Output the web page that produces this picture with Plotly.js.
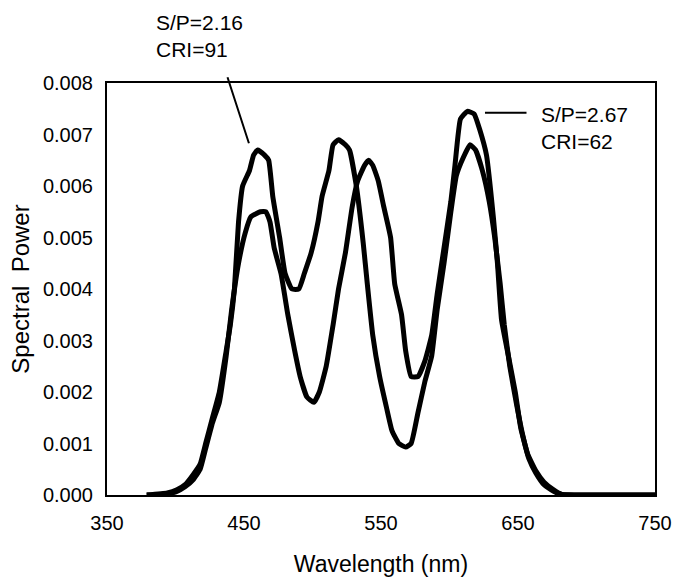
<!DOCTYPE html>
<html>
<head>
<meta charset="utf-8">
<script src="https://cdn.plot.ly/plotly-3.0.1.min.js"></script>
<style>html,body{margin:0;padding:0;background:#fff;}#chart{width:673px;height:582px;}</style>
</head>
<body>
<div id="chart"></div>
<script>
// Spectrum 1 (blue peak ~0.0067, labelled S/P=2.16, CRI=91)
const wl1 = [379, 394, 401, 407, 413, 418, 422, 427, 432, 437, 440, 443, 446, 449, 454, 457, 460, 465, 468, 471, 476, 480, 485, 490, 494, 499, 504, 507, 512, 515, 519, 524, 527, 532, 537, 540, 544, 549, 554, 558, 563, 568, 572, 577, 582, 587, 591, 596, 601, 605, 610, 615, 619, 624, 629, 633, 637, 640, 644, 649, 654, 658, 663, 669, 676, 682, 700, 750];
const sp1 = [0, 0.00004, 0.0001, 0.0002, 0.0004, 0.0006, 0.001, 0.0015, 0.002, 0.0028, 0.0033, 0.004, 0.0053, 0.006, 0.0063, 0.0066, 0.0067, 0.0066, 0.0065, 0.0058, 0.005, 0.0043, 0.004, 0.004, 0.0043, 0.0047, 0.0053, 0.0058, 0.0063, 0.0068, 0.0069, 0.0068, 0.0067, 0.006, 0.0049, 0.0041, 0.0031, 0.0023, 0.0017, 0.00125, 0.001, 0.00093, 0.001, 0.0016, 0.0022, 0.0027, 0.0036, 0.0045, 0.0055, 0.0062, 0.00655, 0.0068, 0.0067, 0.0063, 0.0057, 0.005, 0.0041, 0.0033, 0.0025, 0.00175, 0.0011, 0.0007, 0.00043, 0.0002, 0.00007, 0.00001, 0, 0];

// Spectrum 2 (red peak ~0.0075, labelled S/P=2.67, CRI=62)
const wl2 = [379, 394, 401, 407, 413, 418, 422, 427, 432, 437, 441, 446, 451, 455, 462, 466, 469, 472, 477, 482, 487, 491, 496, 501, 505, 510, 515, 519, 524, 529, 533, 538, 541, 544, 548, 552, 557, 560, 565, 568, 572, 577, 582, 587, 591, 596, 601, 604, 608, 613, 618, 622, 627, 632, 635, 638, 643, 648, 652, 657, 663, 669, 676, 682, 700, 750];
const sp2 = [0, 0.00002, 0.00007, 0.00016, 0.0003, 0.0005, 0.0009, 0.0014, 0.0018, 0.0027, 0.0036, 0.0045, 0.0051, 0.0054, 0.0055, 0.0055, 0.0053, 0.0048, 0.0043, 0.0035, 0.0028, 0.0023, 0.0019, 0.0018, 0.002, 0.0025, 0.0033, 0.004, 0.0047, 0.0056, 0.0061, 0.0064, 0.0065, 0.0064, 0.0061, 0.0056, 0.005, 0.0041, 0.0035, 0.0028, 0.0023, 0.0023, 0.0026, 0.0031, 0.0039, 0.0048, 0.0057, 0.0064, 0.0073, 0.00745, 0.0074, 0.0071, 0.0066, 0.0054, 0.0045, 0.0034, 0.0027, 0.002, 0.0013, 0.0008, 0.00047, 0.00025, 0.0001, 0.00001, 0, 0];

const labelTexts = ["S/P=2.16<br>CRI=91", "S/P=2.67<br>CRI=62"];
const labelX = [384, 665];          // wavelength units
const labelYpaper = [1.114, 0.890]; // fraction of plot height
// pointer lines: [x from, y from, x to, y to]
const pointerLeft = [437.6, 0.00814, 453.6, 0.00683];
const pointerRight = [657.3, 0.00742, 625.9, 0.00742];

const xTicks = [350, 450, 550, 650, 750];

const lineStyle = {color: '#000', width: 5, shape: 'spline', smoothing: 0.4};
const traces = [
  {x: wl1, y: sp1, type: 'scatter', mode: 'lines', line: lineStyle, hoverinfo: 'skip'},
  {x: wl2, y: sp2, type: 'scatter', mode: 'lines', line: lineStyle, hoverinfo: 'skip'}
];

const font = {family: 'Liberation Sans, Arial, sans-serif', color: '#000'};

const layout = {
  width: 673, height: 582,
  margin: {l: 107, r: 18, t: 83, b: 87},
  paper_bgcolor: '#fff', plot_bgcolor: '#fff',
  showlegend: false,
  font: Object.assign({}, font, {size: 20}),
  xaxis: {
    range: [350, 750], tickvals: xTicks, ticktext: xTicks.map(String),
    showgrid: false, zeroline: false,
    showline: true, mirror: true, linecolor: '#000', linewidth: 2,
    ticks: 'outside', ticklen: 9, tickcolor: 'rgba(0,0,0,0)',
    tickfont: Object.assign({}, font, {size: 20}),
    title: {text: 'Wavelength (nm)', font: Object.assign({}, font, {size: 23}), standoff: 23}
  },
  yaxis: {
    range: [0, 0.008], dtick: 0.001, tick0: 0, tickformat: '.3f',
    showgrid: false, zeroline: false,
    showline: true, mirror: true, linecolor: '#000', linewidth: 2,
    ticks: 'outside', ticklen: 8, tickcolor: 'rgba(0,0,0,0)',
    tickfont: Object.assign({}, font, {size: 20}),
    title: {text: 'Spectral  Power', font: Object.assign({}, font, {size: 24}), standoff: 7}
  },
  annotations: [
    {x: labelX[0], y: labelYpaper[0], xref: 'x', yref: 'paper', text: labelTexts[0], showarrow: false,
     xanchor: 'left', yanchor: 'middle', align: 'left', font: Object.assign({}, font, {size: 21})},
    {x: labelX[1], y: labelYpaper[1], xref: 'x', yref: 'paper', text: labelTexts[1], showarrow: false,
     xanchor: 'left', yanchor: 'middle', align: 'left', font: Object.assign({}, font, {size: 21})},
    {x: pointerLeft[2], y: pointerLeft[3], ax: pointerLeft[0], ay: pointerLeft[1],
     xref: 'x', yref: 'y', axref: 'x', ayref: 'y', text: '', showarrow: true,
     arrowhead: 0, arrowwidth: 2, arrowcolor: '#000', standoff: 0, startstandoff: 0},
    {x: pointerRight[2], y: pointerRight[3], ax: pointerRight[0], ay: pointerRight[1],
     xref: 'x', yref: 'y', axref: 'x', ayref: 'y', text: '', showarrow: true,
     arrowhead: 0, arrowwidth: 2, arrowcolor: '#000', standoff: 0, startstandoff: 0}
  ]
};

Plotly.newPlot('chart', traces, layout, {staticPlot: true, displayModeBar: false});
</script>
</body>
</html>
